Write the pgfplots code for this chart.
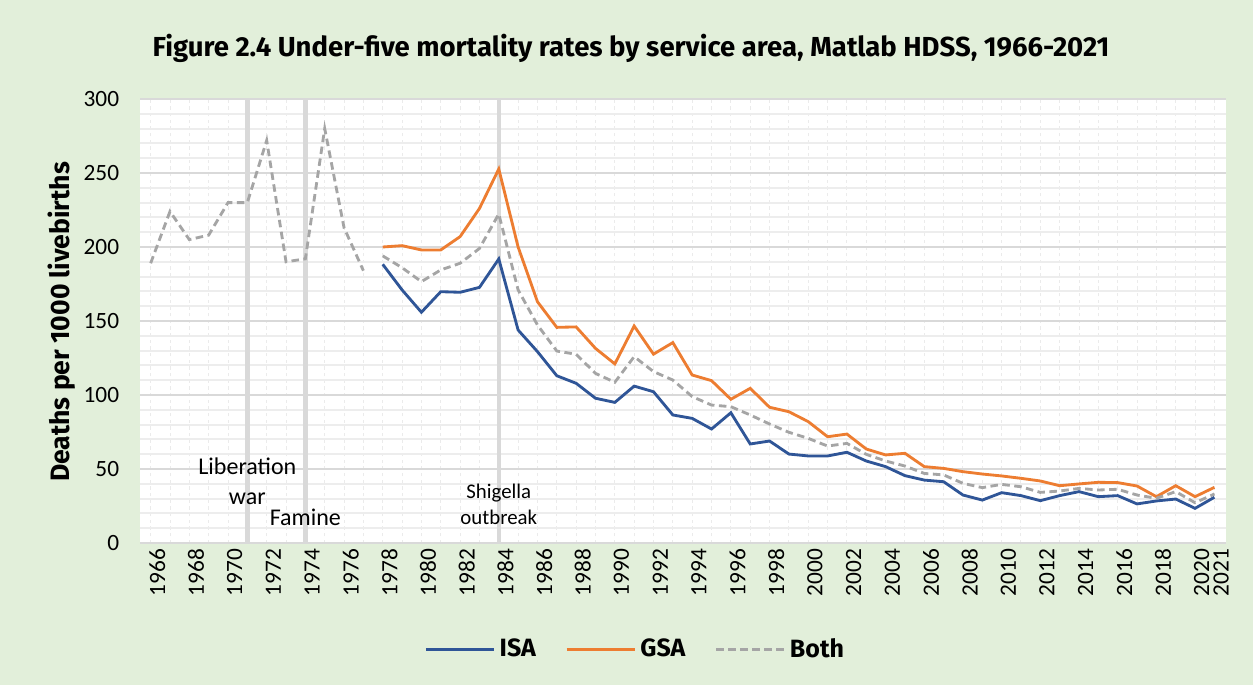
\documentclass[border=0pt]{standalone}
\usepackage{fontspec}
\setmainfont{Fira Sans}
\newfontfamily\calibri{Carlito}
\usepackage{graphicx}
\usepackage{pgfplots}
\usepackage{pgfplotstable}
\pgfplotsset{compat=1.18}
\definecolor{bg}{HTML}{E2EFDA}
\definecolor{isa}{HTML}{2F5597}
\definecolor{gsa}{HTML}{ED7D31}
\definecolor{both}{HTML}{A5A5A5}
\definecolor{evline}{HTML}{D9D9D9}

\pgfplotstableread{
year val
1966 189
1967 224
1968 205
1969 208
1970 230
1971 230
1972 272
1973 190
1974 192
1975 280
1976 213
1977 184
1977.5 nan
1978 194
1979 186
1980 176.6
1981 184.5
1982 189
1983 199
1984 222.3
1985 171
1986 147.3
1987 129.7
1988 127.5
1989 114.6
1990 108.6
1991 125.9
1992 115.8
1993 110.1
1994 98.9
1995 93.2
1996 92.1
1997 86.5
1998 80.4
1999 74.8
2000 70.7
2001 65.5
2002 67.3
2003 59.9
2004 55.4
2005 52
2006 47
2007 46
2008 40.3
2009 37.4
2010 39.6
2011 38
2012 34.2
2013 35.1
2014 36.9
2015 35.8
2016 36.3
2017 32.4
2018 30.2
2019 34.7
2020 27.2
2021 33.1
}\bothtab

\pgfplotstableread{
year val
1978 200
1979 200.9
1980 198
1981 198
1982 207
1983 226
1984 252.7
1985 200
1986 163
1987 145.7
1988 146
1989 131.5
1990 121
1991 146.6
1992 127.6
1993 135.4
1994 113.5
1995 109.7
1996 97.1
1997 104.5
1998 91.7
1999 88.7
2000 82
2001 71.8
2002 73.6
2003 63.5
2004 59.5
2005 60.6
2006 51.6
2007 50.4
2008 48.2
2009 46.6
2010 45.3
2011 43.7
2012 41.9
2013 38.7
2014 39.9
2015 41
2016 40.8
2017 38.5
2018 31.3
2019 38.7
2020 31.3
2021 37.6
}\gsatab

\pgfplotstableread{
year val
1978 188.3
1979 171
1980 155.9
1981 169.8
1982 169.4
1983 172.7
1984 191.9
1985 143.9
1986 129.3
1987 113
1988 107.9
1989 97.8
1990 95
1991 106
1992 102.2
1993 86.5
1994 84.2
1995 77
1996 88
1997 66.9
1998 68.9
1999 60.1
2000 58.8
2001 58.8
2002 61.3
2003 55.4
2004 51.6
2005 45.5
2006 42.5
2007 41.4
2008 32.4
2009 29
2010 34
2011 32
2012 28.6
2013 32
2014 34.7
2015 31.3
2016 32
2017 26.4
2018 28.4
2019 29.7
2020 23.4
2021 30.9
}\isatab

\begin{document}
\begin{tikzpicture}[x=1pt,y=1pt]
\fill[bg] (0,0) rectangle (751.8,411);
\useasboundingbox (0,0) rectangle (751.8,411);
\node[inner sep=0pt] at (378.6,382.2) {\resizebox{574pt}{!}{\fontsize{16.5}{19}\selectfont\bfseries Figure 2.4 Under-five mortality rates by service area, Matlab HDSS, 1966-2021}};
\node[inner sep=0pt, rotate=90] at (37.2,217.8) {\resizebox{192pt}{!}{\fontsize{13.5}{15}\selectfont\bfseries Deaths per 1000 livebirths}};
\begin{axis}[
  at={(84pt,85.2pt)}, anchor=south west,
  scale only axis, width=651.6pt, height=266.4pt,
  xmin=1965.45, xmax=2021.6, ymin=0, ymax=300,
  axis background/.style={fill=white},
  axis line style={draw=none},
  major tick length=0pt, minor tick length=0pt,
  ytick={0,50,...,300},
  minor ytick={10,20,...,290},
  xtick={1966,1968,...,2020,2021},
  minor xtick={1966,1967,...,2021},
  ymajorgrids, yminorgrids, xminorgrids,
  major y grid style={draw=evline, line width=0.9pt},
  minor y grid style={draw=black!7, line width=1.1pt},
  minor x grid style={draw=black!8, line width=0.5pt, dash pattern=on 2pt off 2pt},
  /pgf/number format/assume math mode=true,
  /pgf/number format/1000 sep={},
  yticklabel style={font=\calibri\fontsize{14}{16}\selectfont, anchor=east, xshift=-9pt},
  xticklabel style={font=\calibri\fontsize{14}{16}\selectfont, rotate=90, anchor=east, yshift=-4pt},
  unbounded coords=jump,
  legend style={at={(0.457,-0.239)}, anchor=center, draw=none, fill=none,
    legend columns=3, font=\fontsize{15}{17}\selectfont\bfseries,
    nodes={inner xsep=2.5pt},
    /tikz/every even column/.append style={column sep=15pt}},
  legend cell align=left,
  legend image code/.code={\draw[#1] (0pt,0pt) -- (41pt,0pt);},
]
\addplot[evline, line width=2.6pt, forget plot] coordinates {(1971,0) (1971,300)};
\addplot[evline, line width=2.6pt, forget plot] coordinates {(1974,0) (1974,300)};
\addplot[evline, line width=2.6pt, forget plot] coordinates {(1984,0) (1984,300)};
\addplot[isa, line width=1.7pt] table[x=year, y=val] {\isatab};
\addlegendentry{ISA}
\addplot[gsa, line width=1.7pt] table[x=year, y=val] {\gsatab};
\addlegendentry{GSA}
\addplot[both, line width=1.7pt, dash pattern=on 4.5pt off 2.7pt] table[x=year, y=val] {\bothtab};
\addlegendentry{Both}
\node[font=\calibri\fontsize{14.4}{18}\selectfont, align=center] at (axis cs:1971,42) {Liberation\\war};
\node[font=\calibri\fontsize{14.4}{17}\selectfont] at (axis cs:1974,17.6) {Famine};
\node[font=\calibri\fontsize{12.5}{15.5}\selectfont, align=center] at (axis cs:1984,26) {Shigella\\outbreak};
\end{axis}
\end{tikzpicture}
\end{document}
